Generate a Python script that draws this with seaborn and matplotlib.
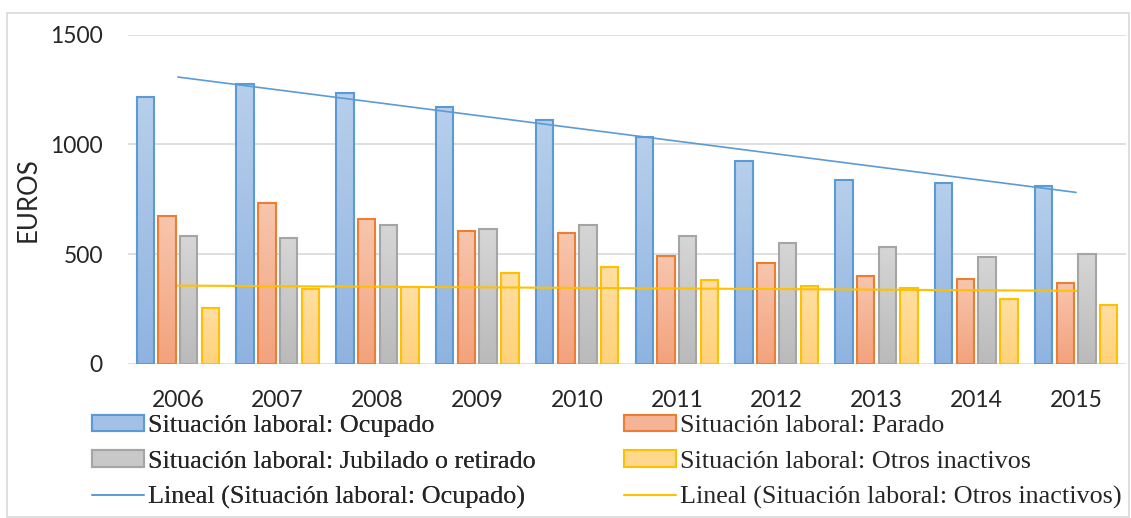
import numpy as np
import pandas as pd
import matplotlib
matplotlib.use("Agg")
import matplotlib.pyplot as plt
import seaborn as sns
from matplotlib.colors import LinearSegmentedColormap, to_rgb
from matplotlib.patches import Patch, Rectangle
from matplotlib.lines import Line2D

# datos (euros)
years = ['2006', '2007', '2008', '2009', '2010', '2011', '2012', '2013', '2014', '2015']
ocupado = [1218, 1276, 1236, 1170, 1113, 1034, 925, 836, 825, 811]
parado = [675, 734, 661, 608, 596, 490, 460, 402, 387, 370]
jubilado = [582, 576, 633, 614, 634, 582, 552, 534, 488, 500]
otros = [256, 340, 350, 416, 441, 381, 356, 347, 296, 270]

series = ['Situación laboral: Ocupado', 'Situación laboral: Parado',
          'Situación laboral: Jubilado o retirado', 'Situación laboral: Otros inactivos']
edge_colors = ['#5b9bd5', '#ed7d31', '#a5a5a5', '#ffc000']
# degradado (arriba, abajo)
grad_colors = [('#b7cfeb', '#8fb3e0'), ('#f7c6ae', '#f3a27c'),
               ('#d6d6d6', '#bababa'), ('#ffdfa3', '#ffd179')]

df = pd.DataFrame({'Año': years, series[0]: ocupado, series[1]: parado,
                   series[2]: jubilado, series[3]: otros})
df = df.melt(id_vars='Año', var_name='Situación', value_name='Euros')

sns.set_style("white")
fig = plt.figure(figsize=(11.31, 5.18), dpi=100)
ax = fig.add_axes([128 / 1131, 1 - 364 / 518, (1126 - 128) / 1131, (364 - 34.7) / 518])

sns.barplot(data=df, x='Año', y='Euros', hue='Situación', hue_order=series,
            palette=edge_colors, width=0.87, gap=0.2, ax=ax, legend=False,
            errorbar=None)

# relleno con degradado como en Excel
grad = np.linspace(0, 1, 256).reshape(-1, 1)
for cont, ec, (top, bot) in zip(ax.containers, edge_colors, grad_colors):
    cmap = LinearSegmentedColormap.from_list('g', [bot, top])
    for rect in cont:
        x, y = rect.get_x(), rect.get_y()
        w, h = rect.get_width(), rect.get_height()
        rect.set_facecolor('none')
        rect.set_edgecolor(ec)
        rect.set_linewidth(1.5)
        rect.set_zorder(2)
        im = ax.imshow(grad, extent=[x, x + w, y, y + h], origin='lower',
                       aspect='auto', cmap=cmap, zorder=1.5)
        im.set_clip_path(rect)

# lineas de tendencia
xs = np.arange(len(years))
sns.regplot(x=xs, y=ocupado, scatter=False, ci=None, ax=ax,
            line_kws={'color': '#5b9bd5', 'lw': 1.2, 'zorder': 3})
sns.regplot(x=xs, y=otros, scatter=False, ci=None, ax=ax,
            line_kws={'color': '#ffc000', 'lw': 1.5, 'zorder': 3})

ax.set_xlim(-0.5, 9.5)
ax.set_ylim(0, 1500)
ax.set_yticks([0, 500, 1000, 1500])
ax.set_xticks(xs)
ax.set_xticklabels(years)
ax.yaxis.grid(True, color='#d9d9d9', lw=1.2, zorder=0.5)
ax.set_axisbelow(True)
for s in ax.spines.values():
    s.set_visible(False)
for lab in ax.get_xticklabels() + ax.get_yticklabels():
    lab.set_fontfamily('Lato')
    lab.set_fontsize(16.5)
ax.tick_params(axis='y', length=0, pad=18)
ax.tick_params(axis='x', length=0, pad=19)
ax.set_xlabel('')
ax.set_ylabel('EUROS', fontfamily='Lato', fontsize=18.5)
ax.yaxis.set_label_coords(-0.088, 0.5)

# leyenda en dos columnas
def mid(pair):
    return np.mean([to_rgb(c) for c in pair], axis=0)

leg_font = {'family': 'Liberation Serif', 'size': 18.8}
left_h = [Patch(facecolor=mid(grad_colors[0]), edgecolor=edge_colors[0], lw=1.5),
          Patch(facecolor=mid(grad_colors[2]), edgecolor=edge_colors[2], lw=1.5),
          Line2D([], [], color='#5b9bd5', lw=1.2)]
left_l = [series[0], series[2], 'Lineal (Situación laboral: Ocupado)']
right_h = [Patch(facecolor=mid(grad_colors[1]), edgecolor=edge_colors[1], lw=1.5),
           Patch(facecolor=mid(grad_colors[3]), edgecolor=edge_colors[3], lw=1.5),
           Line2D([], [], color='#ffc000', lw=1.5)]
right_l = [series[1], series[3], 'Lineal (Situación laboral: Otros inactivos)']

kw = dict(loc='center left', frameon=False, prop=leg_font, handlelength=2.0,
          handleheight=0.58, handletextpad=0.15, labelspacing=0.52, borderpad=0,
          borderaxespad=0)
leg1 = fig.legend(left_h, left_l, bbox_to_anchor=(92 / 1131, 1 - 462 / 518), **kw)
fig.add_artist(leg1)
fig.legend(right_h, right_l, bbox_to_anchor=(624 / 1131, 1 - 462 / 518), **kw)

# marco exterior
fig.add_artist(Rectangle((7 / 1131, 1 / 518), 1122 / 1131, (518 - 12.7 - 1) / 518,
                         transform=fig.transFigure, fill=False, edgecolor='#d9d9d9', lw=1.2))

fig.savefig('out.png', dpi=100)
